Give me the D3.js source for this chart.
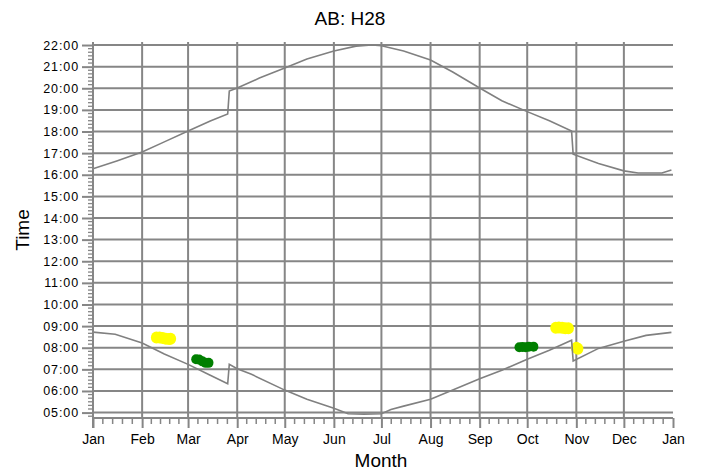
<!DOCTYPE html>
<html>
<head>
<meta charset="utf-8">
<script src="https://cdn.jsdelivr.net/npm/d3@7"></script>
<style>
  html, body { margin: 0; padding: 0; background: #ffffff; }
  svg { display: block; }
  text { font-family: "Liberation Sans", Arial, sans-serif; fill: #000; }
</style>
</head>
<body>
<svg id="chart" width="701" height="475"></svg>
<script>
// ---------------- data ----------------
const titleText = "AB: H28";
const xLabel = "Month";
const yLabel = "Time";
const monthLabels = ["Jan","Feb","Mar","Apr","May","Jun","Jul","Aug","Sep","Oct","Nov","Dec","Jan"];
const hourTicks = [5,6,7,8,9,10,11,12,13,14,15,16,17,18,19,20,21,22];
const hourLabels = ["05:00","06:00","07:00","08:00","09:00","10:00","11:00","12:00","13:00","14:00","15:00","16:00","17:00","18:00","19:00","20:00","21:00","22:00"];

// upper line (sunset), decimal hours
const sunsetDates = ["2016-01-01","2016-01-16","2016-02-01","2016-02-15","2016-03-01","2016-03-15","2016-03-26","2016-03-27","2016-04-01","2016-04-15","2016-05-01","2016-05-15","2016-06-01","2016-06-15","2016-06-25","2016-07-01","2016-07-15","2016-08-01","2016-08-15","2016-09-01","2016-09-15","2016-10-01","2016-10-15","2016-10-29","2016-10-30","2016-11-15","2016-12-01","2016-12-10","2016-12-25","2016-12-31"];
const sunsetHours = [16.28,16.64,17.05,17.52,18.02,18.49,18.81,19.87,20.01,20.47,20.94,21.35,21.72,21.95,22.0,21.97,21.72,21.31,20.75,20.01,19.42,18.92,18.5,18.02,16.95,16.52,16.18,16.08,16.08,16.22];

// lower line (sunrise), decimal hours
const sunriseDates = ["2016-01-01","2016-01-15","2016-02-01","2016-02-15","2016-03-01","2016-03-15","2016-03-26","2016-03-27","2016-04-01","2016-04-10","2016-05-01","2016-05-15","2016-06-01","2016-06-10","2016-06-20","2016-07-01","2016-07-07","2016-07-15","2016-08-01","2016-08-15","2016-09-01","2016-09-15","2016-10-01","2016-10-15","2016-10-29","2016-10-30","2016-11-15","2016-12-01","2016-12-15","2016-12-31"];
const sunriseHours = [8.72,8.62,8.22,7.71,7.23,6.73,6.33,7.23,7.03,6.77,6.04,5.62,5.2,4.95,4.93,4.95,5.14,5.3,5.62,6.04,6.56,6.96,7.47,7.88,8.35,7.39,7.97,8.3,8.57,8.71];

// yellow markers
const yellowDates = ["2016-02-10","2016-02-12","2016-02-14","2016-02-16","2016-02-18","2016-02-19","2016-10-19","2016-10-21","2016-10-23","2016-10-25","2016-10-27","2016-11-01","2016-11-02"];
const yellowHours = [8.47,8.47,8.45,8.42,8.4,8.42,8.92,8.93,8.92,8.9,8.9,8.0,7.95];

// green markers
const greenDates = ["2016-03-06","2016-03-08","2016-03-10","2016-03-12","2016-03-14","2016-09-26","2016-09-28","2016-09-30","2016-10-02","2016-10-05"];
const greenHours = [7.47,7.45,7.37,7.3,7.3,8.02,8.03,8.02,8.05,8.05];

// ---------------- chart ----------------
const svg = d3.select("#chart");
const parse = d3.timeParse("%Y-%m-%d");
const x = d3.scaleTime().domain([new Date(2016,0,1), new Date(2017,0,1)]).range([93, 673]);
const y = d3.scaleLinear().domain([4.75, 22.14]).range([418, 42]);
const gridColor = "#868686";

// horizontal gridlines
svg.append("g").selectAll("line").data(hourTicks).join("line")
  .attr("x1", x.range()[0]).attr("x2", x.range()[1])
  .attr("y1", d => y(d)).attr("y2", d => y(d))
  .attr("stroke", gridColor).attr("stroke-width", 2);

// vertical gridlines (Feb..Dec)
const monthDates = d3.range(13).map(i => new Date(2016, i, 1));
svg.append("g").selectAll("line").data(monthDates.slice(1, 12)).join("line")
  .attr("x1", d => x(d)).attr("x2", d => x(d))
  .attr("y1", y.range()[1]).attr("y2", y.range()[0])
  .attr("stroke", gridColor).attr("stroke-width", 2);

// markers
function markers(dates, hours, color, rx, ry) {
  svg.append("g").selectAll("ellipse").data(dates.map((d, i) => [parse(d), hours[i]])).join("ellipse")
    .attr("cx", d => x(d[0])).attr("cy", d => y(d[1])).attr("rx", rx).attr("ry", ry)
    .attr("fill", color);
}
markers(yellowDates, yellowHours, "#ffff00", 5.5, 6);
markers(greenDates, greenHours, "#007f00", 4.8, 5);

// lines
const line = d3.line().x(d => x(d[0])).y(d => y(d[1]));
function drawLine(dates, hours) {
  svg.append("path").datum(dates.map((d, i) => [parse(d), hours[i]]))
    .attr("d", line).attr("fill", "none").attr("stroke", "#808080").attr("stroke-width", 1.6);
}
drawLine(sunsetDates, sunsetHours);
drawLine(sunriseDates, sunriseHours);

// x axis
const xAxis = d3.axisBottom(x).tickValues(monthDates).tickFormat((d, i) => monthLabels[i]).tickSize(10).tickPadding(6);
const gx = svg.append("g").attr("transform", "translate(0,418)").call(xAxis);
gx.select(".domain").attr("stroke", gridColor).attr("stroke-width", 2).attr("d", "M93,0H673");
gx.selectAll(".tick line").attr("stroke", gridColor).attr("stroke-width", 2);
gx.selectAll(".tick text").attr("font-size", 14).attr("font-family", "Liberation Sans, Arial, sans-serif").attr("fill", "#000");
// minor x ticks
const minorX = [];
monthDates.slice(0, 12).forEach((m, i) => {
  const a = x(m), b = x(monthDates[i + 1]);
  for (let k = 1; k < 5; k++) minorX.push(a + (b - a) * k / 5);
});
svg.append("g").selectAll("line").data(minorX).join("line")
  .attr("x1", d => d).attr("x2", d => d).attr("y1", 418).attr("y2", 424)
  .attr("stroke", gridColor).attr("stroke-width", 1.5);

// y axis
const yAxis = d3.axisLeft(y).tickValues(hourTicks).tickFormat((d, i) => hourLabels[i]).tickSize(11).tickPadding(3);
const gy = svg.append("g").attr("transform", "translate(93,0)").call(yAxis);
gy.select(".domain").attr("stroke", gridColor).attr("stroke-width", 2).attr("d", "M0,42V428");
gy.selectAll(".tick line").attr("stroke", gridColor).attr("stroke-width", 2);
gy.selectAll(".tick text").attr("font-size", 12.5).attr("letter-spacing", "0.9px").attr("font-family", "Liberation Sans, Arial, sans-serif").attr("fill", "#000");
// minor y ticks (every 10 min)
const minorY = [];
for (let h = 4.75; h <= 22.14; h += 1 / 6) {
  const hr = Math.round(h * 6) / 6;
  if (Math.abs(hr - Math.round(hr)) > 0.01 && hr > 4.8 && hr < 22.14) minorY.push(hr);
}
svg.append("g").selectAll("line").data(minorY).join("line")
  .attr("x1", 88).attr("x2", 93).attr("y1", d => y(d)).attr("y2", d => y(d))
  .attr("stroke", gridColor).attr("stroke-width", 1.3);

// titles
svg.append("text").attr("x", 350).attr("y", 25).attr("text-anchor", "middle")
  .attr("font-size", 19).text(titleText);
svg.append("text").attr("x", 381).attr("y", 467).attr("text-anchor", "middle")
  .attr("font-size", 19).text(xLabel);
svg.append("text").attr("transform", "translate(29,230) rotate(-90)").attr("text-anchor", "middle")
  .attr("font-size", 19).text(yLabel);
</script>
</body>
</html>
